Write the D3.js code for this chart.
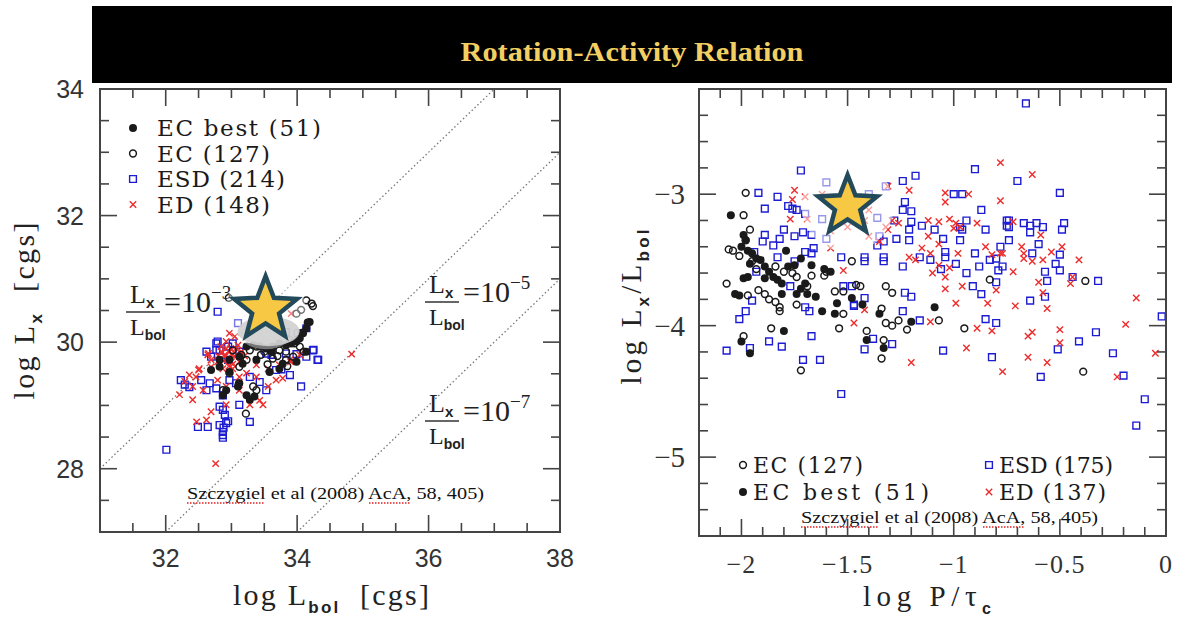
<!DOCTYPE html>
<html>
<head>
<meta charset="utf-8">
<script src="https://cdn.jsdelivr.net/npm/d3@7"></script>
<style>
  body { margin: 0; background: #fff; }
  svg { display: block; }
</style>
</head>
<body>
<svg id="chart" width="1179" height="619"></svg>
<script>
// Rotation-activity relation, Szczygiel et al (2008)

// ---- left panel: log Lx vs log Lbol ----
const leftXTicks = [32, 34, 36, 38];
const leftYTicks = [28, 30, 32, 34];
const ratioExps = [-3, -5, -7];
const leftLegend = ['EC best (51)', 'EC (127)', 'ESD (214)', 'ED (148)'];

const leftEcBest = [
  [34.19, 30.32], [34.14, 30.22], [34.09, 30.14], [34.04, 30.06], [33.99, 30.01], [33.91, 29.98],
  [33.83, 29.95], [33.73, 29.98], [33.63, 29.93], [33.53, 29.90], [33.43, 29.93], [33.33, 29.95],
  [33.23, 29.93], [33.12, 29.77], [33.17, 29.66], [32.97, 29.72], [32.69, 29.56], [32.82, 29.61],
  [32.92, 29.24], [32.87, 29.16], [33.12, 29.35], [33.10, 29.30], [33.23, 29.16], [33.28, 29.09],
  [33.58, 29.53], [33.73, 29.58], [33.78, 29.66], [33.99, 29.69], [34.14, 29.85], [33.38, 29.72],
  [32.82, 29.72], [32.97, 29.53], [33.11, 29.34], [33.35, 29.14], [33.61, 29.85], [34.07, 30.15],
  [34.16, 30.31],
];

const leftEc = [
  [34.14, 30.66], [34.22, 30.61], [34.24, 30.57], [34.06, 30.51], [33.99, 30.45], [33.89, 30.03],
  [33.96, 29.98], [34.04, 29.93], [33.73, 29.87], [33.83, 29.85], [33.61, 29.87], [33.50, 29.85],
  [33.38, 29.93], [33.28, 29.87], [33.23, 29.72], [33.12, 29.61], [33.33, 29.30], [33.38, 29.24],
  [33.22, 28.87], [32.87, 29.24], [32.97, 29.51], [33.83, 29.72], [33.94, 29.77], [33.63, 29.74],
  [33.02, 29.87], [32.96, 30.70], [33.45, 29.80], [33.70, 29.78], [34.10, 29.85], [33.15, 29.80],
  [33.55, 29.65], [33.85, 29.62],
];

const leftEsd = [
  [32.79, 30.48], [33.10, 30.30], [32.77, 29.98], [32.82, 29.87], [33.02, 29.98], [32.95, 29.93],
  [32.62, 29.85], [32.69, 29.77], [32.95, 29.72], [33.12, 29.85], [33.53, 29.82], [33.61, 29.80],
  [33.83, 29.82], [33.99, 29.81], [34.14, 29.77], [34.24, 29.87], [34.32, 29.72], [34.14, 30.22],
  [34.01, 30.14], [32.23, 29.40], [32.29, 29.33], [32.36, 29.29], [32.54, 29.40], [32.67, 29.35],
  [32.62, 29.24], [32.77, 29.27], [32.87, 29.16], [32.97, 29.40], [33.07, 29.35], [33.28, 29.45],
  [33.43, 29.37], [33.53, 29.24], [33.68, 29.56], [33.76, 29.57], [33.89, 29.48], [34.06, 29.30],
  [32.82, 28.98], [32.87, 28.93], [32.90, 28.85], [32.95, 28.75], [32.49, 28.66], [32.64, 28.66],
  [32.82, 28.69], [32.92, 28.72], [32.87, 28.58], [32.87, 28.53], [32.87, 28.49], [33.12, 29.01],
  [33.28, 28.74], [32.01, 28.30], [33.83, 30.16], [34.25, 29.88], [34.31, 29.72], [32.79, 30.01],
  [32.77, 29.88], [32.88, 28.65],
];

const leftEd = [
  [33.91, 30.45], [32.97, 30.14], [33.05, 30.09], [32.92, 30.01], [32.84, 29.93], [32.97, 29.85],
  [33.07, 29.90], [32.90, 29.77], [32.79, 29.69], [33.00, 29.69], [33.12, 29.69], [32.69, 29.61],
  [32.87, 29.58], [33.02, 29.58], [32.64, 29.80], [32.51, 29.58], [32.46, 29.45], [32.79, 29.40],
  [33.12, 29.45], [33.23, 29.51], [33.38, 29.64], [33.56, 29.58], [33.73, 29.64], [33.89, 29.72],
  [34.04, 29.80], [33.38, 29.45], [33.68, 29.40], [33.78, 29.43], [32.41, 29.30], [32.57, 29.24],
  [32.92, 29.30], [33.12, 29.24], [32.21, 29.17], [32.41, 29.09], [32.69, 28.90], [33.43, 29.08],
  [33.48, 29.01], [33.28, 29.01], [32.92, 29.01], [32.76, 28.08], [32.62, 28.77], [32.36, 29.48],
  [32.29, 29.38], [33.56, 29.30], [32.69, 29.72], [32.50, 29.56], [32.65, 29.82], [32.47, 28.74],
  [33.00, 29.88], [34.83, 29.81], [33.90, 29.69], [32.85, 29.85], [32.90, 29.80], [32.95, 29.75],
  [33.00, 29.80], [32.88, 29.70], [33.05, 29.78], [32.92, 29.90], [33.02, 29.65], [32.80, 29.78],
  [32.96, 29.62], [33.10, 29.95], [33.15, 29.85], [33.20, 29.78],
];

const leftStar = [33.52, 30.52];

// ---- right panel: log Lx/Lbol vs log P/tau_c ----
const rightXTicks = [-2, -1.5, -1, -0.5, 0];
const rightYTicks = [-5, -4, -3];
const rightLegend = ['EC (127)', 'EC best (51)', 'ESD (175)', 'ED (137)'];

const rightEc = [
  [-1.98, -2.99], [-1.99, -3.16], [-1.96, -3.27], [-1.98, -3.35], [-2.06, -3.42], [-2.04, -3.43],
  [-2.01, -3.47], [-2.07, -3.68], [-1.97, -3.77], [-1.92, -3.73], [-1.89, -3.76], [-1.87, -3.80],
  [-1.84, -3.82], [-1.82, -3.86], [-1.82, -3.89], [-1.99, -4.08], [-1.86, -4.02], [-1.72, -4.34],
  [-1.93, -3.57], [-1.95, -3.51], [-1.84, -3.55], [-1.80, -3.59], [-1.76, -3.60], [-1.74, -3.63],
  [-1.67, -3.62], [-1.61, -3.62], [-1.60, -3.59], [-1.56, -3.74], [-1.52, -3.74], [-1.48, -3.51],
  [-1.52, -3.91], [-1.54, -4.02], [-1.74, -3.84], [-1.69, -3.70], [-1.46, -3.69], [-1.44, -3.70],
  [-1.32, -3.70], [-1.29, -3.75], [-1.34, -3.87], [-1.32, -3.98], [-1.29, -4.00], [-1.26, -3.96],
  [-1.22, -4.03], [-1.07, -3.96], [-1.41, -4.04], [-1.33, -4.11], [-1.34, -4.25], [-0.95, -4.02],
  [-0.83, -3.65], [-0.38, -3.66], [-0.39, -4.35],
];

const rightEcBest = [
  [-2.05, -3.16], [-1.99, -3.31], [-1.98, -3.35], [-2.00, -3.40], [-1.97, -3.43], [-1.95, -3.45],
  [-1.93, -3.49], [-1.96, -3.53], [-1.91, -3.50], [-1.89, -3.55], [-1.87, -3.59], [-1.85, -3.63],
  [-1.83, -3.65], [-1.81, -3.68], [-1.78, -3.55], [-1.75, -3.54], [-1.72, -3.49], [-1.79, -3.43],
  [-1.74, -3.76], [-1.72, -3.72], [-1.70, -3.68], [-1.69, -3.76], [-1.67, -3.54], [-1.61, -3.57],
  [-1.58, -3.59], [-1.65, -3.78], [-1.62, -3.89], [-1.56, -3.91], [-1.55, -3.83], [-1.81, -3.76],
  [-2.03, -3.76], [-2.01, -3.77], [-1.99, -3.64], [-1.97, -3.63], [-1.80, -4.04], [-2.00, -4.12],
  [-1.96, -4.21], [-1.89, -3.64], [-1.48, -3.79], [-1.43, -3.84], [-1.35, -3.91], [-1.20, -3.97],
  [-1.09, -3.86], [-1.41, -4.11], [-1.33, -4.17],
];

const rightEsd = [
  [-1.72, -2.82], [-1.92, -2.99], [-1.83, -3.02], [-1.89, -3.11], [-1.78, -3.09], [-1.76, -3.11],
  [-1.74, -3.12], [-1.70, -3.15], [-1.80, -3.27], [-1.82, -3.34], [-1.75, -3.32], [-1.71, -3.29],
  [-1.67, -3.31], [-1.89, -3.31], [-1.90, -3.36], [-1.85, -3.39], [-1.66, -3.41], [-1.70, -3.44],
  [-1.67, -3.45], [-1.83, -3.48], [-1.75, -3.51], [-1.94, -3.44], [-1.93, -3.59], [-1.95, -3.81],
  [-1.98, -3.89], [-2.01, -3.95], [-1.77, -3.70], [-1.70, -3.86], [-1.68, -3.89], [-1.67, -4.08],
  [-1.87, -4.12], [-1.81, -4.16], [-1.96, -4.17], [-2.07, -4.19], [-1.71, -4.26], [-1.63, -4.26],
  [-1.60, -3.34], [-1.53, -3.48], [-1.52, -3.70], [-1.48, -3.70], [-1.47, -3.85],
  [-1.18, -2.86], [-1.24, -2.90], [-1.32, -2.94], [-0.90, -2.81], [-1.00, -3.00], [-0.96, -3.00],
  [-1.23, -3.06], [-1.24, -3.12], [-1.20, -3.13], [-0.87, -3.12], [-1.28, -3.20], [-1.20, -3.21],
  [-1.15, -3.24], [-1.09, -3.27], [-0.94, -3.20], [-0.97, -3.25], [-0.96, -3.27], [-0.85, -3.27],
  [-0.75, -3.20], [-0.75, -3.24], [-1.21, -3.27], [-1.27, -3.34], [-1.21, -3.35], [-1.05, -3.34],
  [-0.97, -3.35], [-1.35, -3.32], [-1.36, -3.39], [-1.33, -3.36], [-1.42, -3.48], [-1.42, -3.51],
  [-1.33, -3.48], [-1.33, -3.51], [-1.24, -3.55], [-1.16, -3.48], [-1.11, -3.50], [-1.04, -3.44],
  [-1.04, -3.48], [-1.06, -3.57], [-0.99, -3.53], [-0.90, -3.45], [-0.88, -3.55], [-0.83, -3.50],
  [-0.80, -3.49], [-0.78, -3.40], [-0.77, -3.55], [-0.79, -3.58], [-0.94, -3.60], [-0.91, -3.70],
  [-0.87, -3.76], [-0.80, -3.67], [-1.23, -3.75], [-1.20, -3.78], [-1.47, -3.84], [-1.42, -3.79],
  [-1.24, -3.89], [-1.16, -3.96], [-0.85, -3.95], [-0.80, -3.98], [-1.38, -4.10], [-1.29, -4.14],
  [-1.42, -4.18], [-1.05, -4.19], [-0.82, -4.24],
  [-0.66, -2.31], [-0.70, -2.90], [-0.50, -2.99], [-0.74, -3.20], [-0.74, -3.25], [-0.67, -3.22],
  [-0.64, -3.24], [-0.61, -3.22], [-0.58, -3.25], [-0.64, -3.29], [-0.48, -3.22], [-0.49, -3.27],
  [-0.74, -3.35], [-0.60, -3.38], [-0.63, -3.45], [-0.50, -3.46], [-0.52, -3.53], [-0.50, -3.58],
  [-0.57, -3.59], [-0.56, -3.66], [-0.44, -3.63], [-0.32, -3.66], [-0.64, -3.81], [-0.57, -3.78],
  [-0.33, -4.05], [-0.41, -4.12], [-0.51, -4.18], [-0.25, -4.21], [-0.59, -4.39], [-0.20, -4.38],
  [-0.02, -3.93], [-1.53, -4.52], [-0.10, -4.56], [-0.14, -4.76],
  [-1.60, -2.91], [-1.62, -3.19], [-1.40, -3.00], [-1.36, -3.18],
];

const rightEd = [
  [-1.75, -2.97], [-1.70, -3.02], [-1.76, -3.04], [-1.77, -3.19], [-1.69, -3.19], [-1.58, -3.41],
  [-1.52, -3.58], [-1.47, -3.98],
  [-0.78, -2.76], [-1.21, -2.97], [-1.31, -2.94], [-1.04, -2.99], [-0.93, -3.00], [-1.04, -3.06],
  [-0.78, -3.05], [-1.29, -3.20], [-1.26, -3.22], [-1.32, -3.25], [-1.31, -3.27], [-1.12, -3.20],
  [-1.07, -3.21], [-1.02, -3.19], [-0.99, -3.22], [-1.00, -3.26], [-0.97, -3.25], [-0.89, -3.22],
  [-1.12, -3.32], [-1.07, -3.38], [-1.35, -3.36], [-1.40, -3.32], [-1.15, -3.41], [-1.11, -3.45],
  [-1.21, -3.48], [-1.18, -3.50], [-0.98, -3.45], [-1.07, -3.54], [-1.02, -3.56], [-1.10, -3.60],
  [-1.04, -3.63], [-1.04, -3.72], [-0.96, -3.70], [-0.85, -3.40], [-0.82, -3.46], [-0.78, -3.45],
  [-0.80, -3.73], [-0.84, -3.83], [-0.99, -3.83], [-1.11, -3.97], [-0.89, -4.02], [-0.82, -4.04],
  [-0.94, -4.17], [-1.20, -4.28], [-0.77, -4.35],
  [-0.63, -2.85], [-0.72, -3.21], [-0.59, -3.31], [-0.68, -3.40], [-0.67, -3.45], [-0.77, -3.45],
  [-0.67, -3.49], [-0.63, -3.51], [-0.58, -3.50], [-0.54, -3.44], [-0.49, -3.40], [-0.41, -3.50],
  [-0.72, -3.59], [-0.60, -3.67], [-0.45, -3.68], [-0.44, -3.63], [-0.58, -3.75], [-0.56, -3.87],
  [-0.71, -3.85], [-0.14, -3.79], [-0.19, -3.99], [-0.63, -4.05], [-0.65, -4.08], [-0.50, -4.03],
  [-0.50, -4.13], [-0.65, -4.24], [-0.56, -4.28], [-0.23, -4.39], [-0.05, -4.21], [-1.42, -3.88],
  [-1.62, -3.00], [-1.55, -3.05], [-1.45, -3.05], [-1.40, -3.12], [-1.50, -3.25], [-1.58, -3.28],
  [-1.42, -3.20],
];

const rightStar = [-1.5, -3.09];

const citation = 'Szczygiel et al (2008) AcA, 58, 405)';

// fonts and colours
const serif = "'Liberation Serif', 'Times New Roman', serif";
const cmSerif = "'DejaVu Serif', serif";
const sans = "'Liberation Sans', Arial, sans-serif";
const frameColor = '#444';
const ecColor = '#1a1a1a';
const esdColor = '#1c1cd2';
const edColor = '#ee2b2b';

// measured text widths of the legend entries (layout only)
const leftLegendWidths = [164, 113, 128, 113];
const rightLegendWidths = [110, 176, 114, 107];

const svg = d3.select('#chart');

// title banner
svg.append('rect')
  .attr('x', 92).attr('y', 6)
  .attr('width', 1080).attr('height', 77)
  .attr('fill', '#000');

svg.append('text')
  .text('Rotation-Activity Relation')
  .attr('x', 632).attr('y', 61)
  .attr('text-anchor', 'middle')
  .attr('textLength', 343)
  .attr('lengthAdjust', 'spacingAndGlyphs')
  .style('font-family', serif)
  .style('font-weight', 'bold')
  .style('font-size', '27px')
  .attr('fill', '#f2cf62');

// scales
const xL = d3.scaleLinear().domain([31, 38]).range([100, 560]);
const yL = d3.scaleLinear().domain([27, 34]).range([532, 89]);
const xR = d3.scaleLinear().domain([-2.2, 0]).range([699, 1166]);
const yR = d3.scaleLinear().domain([-5.6, -2.2]).range([536, 89]);

const fix = v => +v.toFixed(3);

// pgplot style box with inward ticks on all four sides
function drawBox(g, x, y, xStep, xMajor, yStep, yMajor) {
  const [x0, x1] = x.range();
  const [y0, y1] = y.range();
  const [dx0, dx1] = x.domain();
  const [dy0, dy1] = y.domain();

  d3.range(dx0 + xStep, dx1 - xStep / 2, xStep).map(fix).forEach((v) => {
    const len = xMajor.includes(v) ? 17 : 9;
    g.append('line').attr('x1', x(v)).attr('x2', x(v)).attr('y1', y0).attr('y2', y0 - len);
    g.append('line').attr('x1', x(v)).attr('x2', x(v)).attr('y1', y1).attr('y2', y1 + len);
  });

  d3.range(dy0 + yStep, dy1 - yStep / 2, yStep).map(fix).forEach((v) => {
    const len = yMajor.includes(v) ? 17 : 9;
    g.append('line').attr('y1', y(v)).attr('y2', y(v)).attr('x1', x0).attr('x2', x0 + len);
    g.append('line').attr('y1', y(v)).attr('y2', y(v)).attr('x1', x1).attr('x2', x1 - len);
  });

  g.selectAll('line').attr('stroke', frameColor).attr('stroke-width', 1.6);

  g.append('rect')
    .attr('x', x0).attr('y', y1)
    .attr('width', x1 - x0).attr('height', y0 - y1)
    .attr('fill', 'none')
    .attr('stroke', frameColor)
    .attr('stroke-width', 2);
}

const crossPath = (cx, cy, s) => `M${cx - s},${cy - s}L${cx + s},${cy + s}M${cx + s},${cy - s}L${cx - s},${cy + s}`;

function drawMarks(g, data, x, y, kind, opacity = 1) {
  const sel = g.append('g').attr('opacity', opacity).selectAll(null).data(data).enter();

  if (kind === 'filled') {
    sel.append('circle')
      .attr('cx', d => x(d[0])).attr('cy', d => y(d[1]))
      .attr('r', 4)
      .attr('fill', ecColor);
  } else if (kind === 'open') {
    sel.append('circle')
      .attr('cx', d => x(d[0])).attr('cy', d => y(d[1]))
      .attr('r', 3.4)
      .attr('fill', 'none')
      .attr('stroke', ecColor)
      .attr('stroke-width', 1.5);
  } else if (kind === 'square') {
    sel.append('path')
      .attr('d', d3.symbol(d3.symbolSquare, 46))
      .attr('transform', d => `translate(${x(d[0])},${y(d[1])})`)
      .attr('fill', 'none')
      .attr('stroke', esdColor)
      .attr('stroke-width', 1.4);
  } else {
    sel.append('path')
      .attr('d', d => crossPath(x(d[0]), y(d[1]), 3.2))
      .attr('stroke', edColor)
      .attr('stroke-width', 1.4);
  }
}

function starPath(cx, cy, r, inner) {
  const pts = d3.range(10).map((i) => {
    const a = -Math.PI / 2 + (i * Math.PI) / 5;
    const rr = i % 2 === 0 ? r : r * inner;
    return [cx + rr * Math.cos(a), cy + rr * Math.sin(a)];
  });
  return d3.line()(pts) + 'Z';
}

function drawStar(g, cx, cy, r) {
  g.append('path')
    .attr('d', starPath(cx, cy, r, 0.43))
    .attr('fill', '#f7c843')
    .attr('stroke', '#234a5a')
    .attr('stroke-width', 4.5)
    .attr('stroke-linejoin', 'miter');
}

// text with subscripts: parts = [[text, isSub], ...]
function richText(g, parts, size, subSize, shift = 0.28) {
  const t = g.append('text').style('font-family', serif).style('font-size', `${size}px`).attr('fill', '#222');
  let shifted = false;
  parts.forEach(([s, sub]) => {
    const span = t.append('tspan').text(s);
    if (sub && !shifted) {
      span.attr('dy', size * shift).style('font-size', `${subSize}px`).style('font-family', sans).style('font-weight', 'bold');
      shifted = true;
    } else if (!sub && shifted) {
      span.attr('dy', -size * shift);
      shifted = false;
    }
  });
  return t;
}

// Lx / Lbol = 10^exp label, anchored at left end of the fraction bar
function ratioLabel(g, ax, ay, exp) {
  const grp = g.append('g').attr('transform', `translate(${ax},${ay})`);
  richText(grp, [['L', false], ['x', true]], 26, 15, 0.18).attr('x', 4).attr('y', -9);
  grp.append('line').attr('x1', 0).attr('x2', 34).attr('y1', 0).attr('y2', 0)
    .attr('stroke', '#333').attr('stroke-width', 1.4);
  richText(grp, [['L', false], ['bol', true]], 24, 14, 0.2).attr('x', 4).attr('y', 23);
  const eq = grp.append('text')
    .attr('x', 38).attr('y', 0)
    .style('font-family', serif).style('font-size', '30px').attr('fill', '#222');
  eq.append('tspan').text('=10');
  eq.append('tspan').text(`\u2212${Math.abs(exp)}`).attr('dy', -13).style('font-size', '19px');
}

// ---------------- left panel ----------------
const left = svg.append('g');

// constant Lx/Lbol lines
ratioExps.forEach((e) => {
  const xa = Math.max(31, 27 - e);
  const xb = Math.min(38, 34 - e);
  left.append('line')
    .attr('x1', xL(xa)).attr('y1', yL(xa + e))
    .attr('x2', xL(xb)).attr('y2', yL(xb + e))
    .attr('stroke', '#777')
    .attr('stroke-width', 1.3)
    .attr('stroke-dasharray', '1.5,2.5');
});

drawMarks(left, leftEsd, xL, yL, 'square');
drawMarks(left, leftEd, xL, yL, 'cross');
drawMarks(left, leftEc, xL, yL, 'open');
drawMarks(left, leftEcBest, xL, yL, 'filled');

ratioLabel(left, 126, 312, ratioExps[0]);
ratioLabel(left, 425, 302, ratioExps[1]);
ratioLabel(left, 425, 421, ratioExps[2]);

// glow and shadow round the star
const lsx = xL(leftStar[0]);
const lsy = yL(leftStar[1]);
left.append('circle').attr('cx', lsx).attr('cy', lsy).attr('r', 40).attr('fill', '#fff').attr('opacity', 0.4);
left.append('ellipse').attr('cx', lsx + 3).attr('cy', lsy + 22).attr('rx', 31).attr('ry', 15)
  .attr('fill', '#cfcfcf').attr('opacity', 0.9);
drawStar(left, lsx, lsy, 33);

drawBox(left.append('g'), xL, yL, 0.5, [32, 34, 36], 0.5, [28, 30, 32]);

// tick labels
leftYTicks.forEach((v) => {
  left.append('text').text(v)
    .attr('x', 84).attr('y', yL(v) + 9)
    .attr('text-anchor', 'end')
    .style('font-family', sans).style('font-size', '25px')
    .attr('fill', '#333');
});
leftXTicks.forEach((v) => {
  left.append('text').text(v)
    .attr('x', xL(v)).attr('y', 567)
    .attr('text-anchor', 'middle')
    .style('font-family', sans).style('font-size', '25px')
    .attr('fill', '#333');
});

// axis titles
richText(left, [['log L', false], ['bol', true], ['\u00a0\u00a0[cgs]', false]], 30, 17)
  .attr('x', 331).attr('y', 605).attr('text-anchor', 'middle')
  .attr('textLength', 196);
richText(left.append('g').attr('transform', 'translate(34,311) rotate(-90)'),
  [['log L', false], ['x', true], ['\u00a0\u00a0[cgs]', false]], 30, 17)
  .attr('x', 0).attr('y', 0).attr('text-anchor', 'middle')
  .attr('textLength', 177);

// legend
const leftKinds = ['filled', 'open', 'square', 'cross'];
leftLegend.forEach((label, i) => {
  const ly = 128 + i * 25.5;
  drawMarks(left, [[0, 0]], () => 133, () => ly, leftKinds[i]);
  left.append('text').text(label)
    .attr('x', 157).attr('y', ly + 8)
    .attr('textLength', leftLegendWidths[i])
    .style('font-family', cmSerif).style('font-size', '23px')
    .attr('fill', '#1a1a1a');
});

// ---------------- right panel ----------------
const right = svg.append('g');

drawMarks(right, rightEsd, xR, yR, 'square');
drawMarks(right, rightEd, xR, yR, 'cross');
drawMarks(right, rightEc, xR, yR, 'open');
drawMarks(right, rightEcBest, xR, yR, 'filled');

const rsx = xR(rightStar[0]);
const rsy = yR(rightStar[1]);
right.append('circle').attr('cx', rsx).attr('cy', rsy).attr('r', 46).attr('fill', '#fff').attr('opacity', 0.55);
drawStar(right, rsx, rsy, 31);

drawBox(right.append('g'), xR, yR, 0.1, [-2, -1.5, -1, -0.5], 0.2, [-5, -4, -3]);

rightYTicks.forEach((v) => {
  right.append('text').text(`\u2212${Math.abs(v)}`)
    .attr('x', 685).attr('y', yR(v) + 10)
    .attr('text-anchor', 'end')
    .style('font-family', serif).style('font-size', '29px')
    .attr('fill', '#333');
});
rightXTicks.forEach((v) => {
  right.append('text').text(v === 0 ? '0' : `\u2212${Math.abs(v)}`)
    .attr('x', xR(v)).attr('y', 573)
    .attr('text-anchor', 'middle')
    .style('font-family', serif).style('font-size', '26px')
    .style('letter-spacing', '1px')
    .attr('fill', '#333');
});

richText(right, [['log P/\u03c4', false], ['c', true]], 29, 16)
  .attr('x', 927).attr('y', 606).attr('text-anchor', 'middle')
  .attr('textLength', 128);
richText(right.append('g').attr('transform', 'translate(641,307) rotate(-90)'),
  [['log L', false], ['x', true], ['/L', false], ['bol', true]], 29, 17)
  .attr('x', 0).attr('y', 0).attr('text-anchor', 'middle')
  .attr('textLength', 155);

const rightKinds = ['open', 'filled', 'square', 'cross'];
rightLegend.forEach((label, i) => {
  const col = Math.floor(i / 2);
  const row = i % 2;
  const mx = col === 0 ? 743 : 989;
  const ly = 465 + row * 27;
  drawMarks(right, [[0, 0]], () => mx, () => ly, rightKinds[i]);
  right.append('text').text(label)
    .attr('x', mx + 10).attr('y', ly + 8)
    .attr('textLength', rightLegendWidths[i])
    .style('font-family', cmSerif).style('font-size', '22px')
    .attr('fill', '#1a1a1a');
});

// citation with spell-check underline
function drawCitation(g, x, y) {
  g.append('text').text(citation)
    .attr('x', x).attr('y', y)
    .attr('textLength', 297)
    .attr('lengthAdjust', 'spacingAndGlyphs')
    .style('font-family', serif).style('font-size', '17px')
    .attr('fill', '#111');
  [[0, 78], [182, 223]].forEach(([a, b]) => {
    g.append('line')
      .attr('x1', x + a).attr('x2', x + b)
      .attr('y1', y + 4).attr('y2', y + 4)
      .attr('stroke', '#e02020')
      .attr('stroke-width', 1.3)
      .attr('stroke-dasharray', '1.5,1.5');
  });
}
drawCitation(left, 187, 499);
drawCitation(right, 801, 523);
</script>
</body>
</html>
